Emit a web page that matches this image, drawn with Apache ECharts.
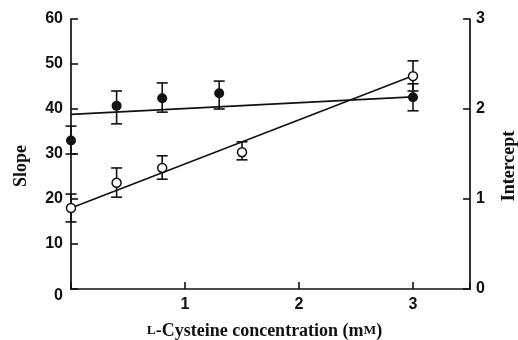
<!DOCTYPE html>
<html>
<head>
<meta charset="utf-8">
<script src="https://cdn.jsdelivr.net/npm/echarts@6/dist/echarts.min.js"></script>
<style>
  html, body { margin: 0; padding: 0; background: #fff; }
  #chart { width: 518px; height: 340px; }
</style>
</head>
<body>
<div id="chart"></div>
<script>
// Slope (filled circles, left axis)
const slopeConc = [0, 0.4, 0.8, 1.3, 3];
const slopeMean = [33, 40.7, 42.4, 43.5, 42.6];
const slopeHigh = [36.2, 44, 45.8, 46.2, 45.6];
const slopeLow = [30, 36.7, 39.3, 40, 39.6];

// Intercept (open circles, right axis)
const interceptConc = [0, 0.4, 0.8, 1.5, 3];
const interceptMean = [0.9, 1.18, 1.345, 1.52, 2.365];
const interceptHigh = [1.055, 1.345, 1.48, 1.635, 2.535];
const interceptLow = [0.745, 1.02, 1.22, 1.435, 2.2];

// Fitted straight lines (end points)
const fitConc = [0, 3];
const slopeFit = [38.8, 42.7];
const interceptFit = [0.9, 2.37];

const pairs = (xs, ys) => xs.map((x, i) => [x, ys[i]]);
const triples = (xs, hi, lo) => xs.map((x, i) => [x, hi[i], lo[i]]);

const INK = '#111';
const tickFont = { fontFamily: 'Liberation Sans', fontWeight: 'bold', fontSize: 16, color: INK };
const nameFont = { fontFamily: 'Liberation Serif', fontWeight: 'bold', fontSize: 18, color: INK };

function errorBars(params, api) {
  const x = api.value(0);
  const top = api.coord([x, api.value(1)]);
  const bot = api.coord([x, api.value(2)]);
  const w = 5.5;
  const st = { stroke: INK, lineWidth: 1.6 };
  return {
    type: 'group',
    children: [
      { type: 'line', shape: { x1: top[0], y1: top[1], x2: bot[0], y2: bot[1] }, style: st },
      { type: 'line', shape: { x1: top[0] - w, y1: top[1], x2: top[0] + w, y2: top[1] }, style: st },
      { type: 'line', shape: { x1: bot[0] - w, y1: bot[1], x2: bot[0] + w, y2: bot[1] }, style: st }
    ]
  };
}

const axisLine = { show: true, lineStyle: { color: INK, width: 1.7 } };
const axisTick = { show: true, inside: true, length: 7, lineStyle: { color: INK, width: 1.6 } };

const chart = echarts.init(document.getElementById('chart'), null, { renderer: 'canvas' });
chart.setOption({
  animation: false,
  backgroundColor: '#fff',
  grid: { left: 71, right: 48, top: 19, bottom: 51, containLabel: false, outerBoundsMode: 'none' },
  xAxis: {
    type: 'value', min: 0, max: 3.5, interval: 1,
    axisLine, axisTick, splitLine: { show: false },
    axisLabel: Object.assign({}, tickFont, {
      margin: 8,
      formatter: v => (v > 0 && Number.isInteger(v)) ? String(v) : ''
    }),
    name: '{sc|L}-Cysteine concentration (m{sc|M})',
    nameLocation: 'middle', nameGap: 33,
    nameTextStyle: Object.assign({}, nameFont, {
      padding: [0, 12, 0, 0],
      rich: { sc: { fontFamily: 'Liberation Serif', fontWeight: 'bold', fontSize: 13.5, color: INK } }
    })
  },
  yAxis: [
    {
      type: 'value', min: 0, max: 60, interval: 10, position: 'left',
      axisLine, axisTick, splitLine: { show: false },
      axisLabel: Object.assign({}, tickFont, {
        margin: 8,
        formatter: v => v === 0 ? '{z|0}' : String(v),
        rich: { z: { fontFamily: 'Liberation Sans', fontWeight: 'bold', fontSize: 16, color: INK, padding: [14, 0, 0, 0] } }
      }),
      name: 'Slope', nameLocation: 'middle', nameRotate: 90, nameGap: 41,
      nameTextStyle: Object.assign({}, nameFont, { padding: [0, 24, 0, 0] })
    },
    {
      type: 'value', min: 0, max: 3, interval: 1, position: 'right',
      axisLine, axisTick, splitLine: { show: false },
      axisLabel: Object.assign({}, tickFont, { margin: 6 }),
      name: 'Intercept', nameLocation: 'middle', nameRotate: 90, nameGap: 30,
      nameTextStyle: Object.assign({}, nameFont, { padding: [0, 24, 0, 0] })
    }
  ],
  series: [
    {
      type: 'line', yAxisIndex: 0, data: pairs(fitConc, slopeFit),
      symbol: 'none', lineStyle: { color: INK, width: 1.6 }, z: 2
    },
    {
      type: 'line', yAxisIndex: 1, data: pairs(fitConc, interceptFit),
      symbol: 'none', lineStyle: { color: INK, width: 1.6 }, z: 2
    },
    {
      type: 'custom', yAxisIndex: 0, renderItem: errorBars,
      data: triples(slopeConc, slopeHigh, slopeLow), z: 3
    },
    {
      type: 'custom', yAxisIndex: 1, renderItem: errorBars,
      data: triples(interceptConc, interceptHigh, interceptLow), z: 3
    },
    {
      type: 'scatter', yAxisIndex: 0, data: pairs(slopeConc, slopeMean),
      symbol: 'circle', symbolSize: 10, itemStyle: { color: INK, opacity: 1 }, z: 4
    },
    {
      type: 'scatter', yAxisIndex: 1, data: pairs(interceptConc, interceptMean),
      symbol: 'circle', symbolSize: 9,
      itemStyle: { color: '#fff', borderColor: INK, borderWidth: 1.5, opacity: 1 }, z: 5
    }
  ]
});
</script>
</body>
</html>
